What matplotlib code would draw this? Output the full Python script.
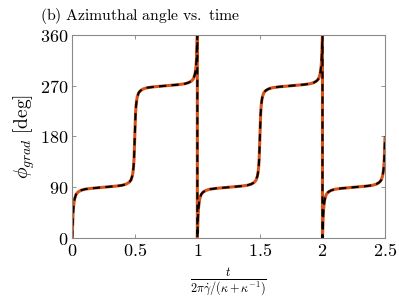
import matplotlib
matplotlib.use("Agg")
import matplotlib.pyplot as plt

plt.rcParams['mathtext.fontset'] = 'cm'
plt.rcParams['font.family'] = 'serif'
plt.rcParams['font.serif'] = ['DejaVu Serif']

# azimuthal angle, one list per period
t_p1 = [0, 0.003, 0.006, 0.01, 0.015, 0.02, 0.03, 0.04, 0.05, 0.07, 0.1, 0.15, 0.2, 0.25,
        0.3, 0.35, 0.4, 0.43, 0.45, 0.46, 0.47, 0.48, 0.485, 0.49, 0.494, 0.497, 0.5,
        0.503, 0.506, 0.51, 0.515, 0.52, 0.53, 0.54, 0.55, 0.57, 0.6, 0.65, 0.7, 0.75,
        0.8, 0.85, 0.9, 0.93, 0.95, 0.96, 0.97, 0.98, 0.985, 0.99, 0.994, 0.997, 1.0]
phi_p1 = [0, 22, 40, 54, 64, 70, 77, 80, 82, 84.5, 86.5, 88, 89, 90,
          91, 92, 93.5, 95.5, 98, 100, 103, 110, 116, 126, 140, 158, 180,
          202, 220, 234, 244, 250, 257, 260, 262, 264.5, 266.5, 268, 269, 270,
          271, 272, 273.5, 275.5, 278, 280, 283, 290, 296, 306, 320, 338, 360]

t_p2 = [1.0, 1.003, 1.006, 1.01, 1.015, 1.02, 1.03, 1.04, 1.05, 1.07, 1.1, 1.15, 1.2, 1.25,
        1.3, 1.35, 1.4, 1.43, 1.45, 1.46, 1.47, 1.48, 1.485, 1.49, 1.494, 1.497, 1.5,
        1.503, 1.506, 1.51, 1.515, 1.52, 1.53, 1.54, 1.55, 1.57, 1.6, 1.65, 1.7, 1.75,
        1.8, 1.85, 1.9, 1.93, 1.95, 1.96, 1.97, 1.98, 1.985, 1.99, 1.994, 1.997, 2.0]
phi_p2 = [0, 22, 40, 54, 64, 70, 77, 80, 82, 84.5, 86.5, 88, 89, 90,
          91, 92, 93.5, 95.5, 98, 100, 103, 110, 116, 126, 140, 158, 180,
          202, 220, 234, 244, 250, 257, 260, 262, 264.5, 266.5, 268, 269, 270,
          271, 272, 273.5, 275.5, 278, 280, 283, 290, 296, 306, 320, 338, 360]

t_p3 = [2.0, 2.003, 2.006, 2.01, 2.015, 2.02, 2.03, 2.04, 2.05, 2.07, 2.1, 2.15, 2.2, 2.25,
        2.3, 2.35, 2.4, 2.43, 2.45, 2.46, 2.47, 2.48, 2.485, 2.49, 2.494, 2.497, 2.5]
phi_p3 = [0, 22, 40, 54, 64, 70, 77, 80, 82, 84.5, 86.5, 88, 89, 90,
          91, 92, 93.5, 95.5, 98, 100, 103, 110, 116, 126, 140, 158, 180]

x_ticks = [0, 0.5, 1, 1.5, 2, 2.5]
x_labels = ['0', '0.5', '1', '1.5', '2', '2.5']
y_ticks = [0, 90, 180, 270, 360]
y_labels = ['0', '90', '180', '270', '360']

t_all = t_p1 + t_p2 + t_p3
phi_all = phi_p1 + phi_p2 + phi_p3

fig = plt.figure(figsize=(3.99, 2.99), dpi=100)
ax = fig.add_axes([0.181, 0.204, 0.784, 0.679])

ax.plot(t_all, phi_all, color='#D95319', linewidth=2.2, solid_capstyle='butt')
ax.plot(t_all, phi_all, color='black', linewidth=1.5, linestyle=(0, (3.5, 2.5)))

ax.set_xlim(0, 2.5)
ax.set_ylim(0, 360)
ax.set_xticks(x_ticks)
ax.set_xticklabels(['$' + s + '$' for s in x_labels], fontsize=13)
ax.set_yticks(y_ticks)
ax.set_yticklabels(['$' + s + '$' for s in y_labels], fontsize=13)
ax.tick_params(direction='in', length=3, width=0.6, color='#808080',
               top=True, right=True, pad=3)
for sp in ax.spines.values():
    sp.set_color('#8a8a8a')
    sp.set_linewidth(0.8)

ax.set_ylabel(r'$\phi_{grad}\ \mathrm{[deg]}$', fontsize=14, labelpad=2)
ax.set_xlabel(r'$\frac{t}{2\pi\dot{\gamma}/(\kappa+\kappa^{-1})}$', fontsize=12.5, labelpad=4)
fig.text(0.1, 0.948, r'$\mathrm{(b)\ Azimuthal\ angle\ vs.\ time}$', fontsize=11.3,
         ha='left', va='center')

fig.savefig('out.png', dpi=100)
